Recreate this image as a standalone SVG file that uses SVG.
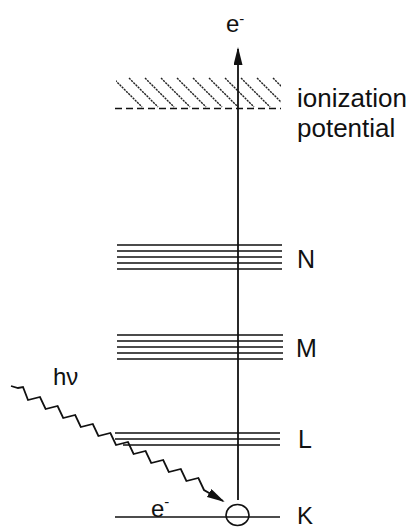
<svg xmlns="http://www.w3.org/2000/svg" width="412" height="528" viewBox="0 0 412 528">
  <style>
    .lvl { stroke: #111; stroke-width: 1.6; fill: none; }
    .hatch { stroke: #222; stroke-width: 1.4; stroke-dasharray: 2.2 0.9; fill: none; }
    .lbl { font-family: "Liberation Sans", Arial, sans-serif; fill: #111; }
    .conn { stroke: #111; stroke-width: 1.8; fill: none; }
  </style>
  <defs>
    <marker id="arr" markerUnits="userSpaceOnUse" markerWidth="20" markerHeight="10" refX="16" refY="4.5" orient="auto">
      <path d="M0,0 L18,4.5 L0,9 Z" fill="#111"/>
    </marker>
    <clipPath id="hclip">
      <rect x="116" y="77" width="165" height="31"/>
    </clipPath>
  </defs>
  <rect width="412" height="528" fill="#fff"/>

  <g id="ionization">
    <g clip-path="url(#hclip)">
      <path class="hatch" d="M113,78 l29,29 M129,78 l29,29 M145,78 l29,29 M161,78 l29,29 M177,78 l29,29 M193,78 l29,29 M209,78 l29,29 M225,78 l29,29 M241,78 l29,29 M257,78 l29,29 M273,78 l29,29"/>
    </g>
    <line class="lvl" x1="115" y1="108.5" x2="281" y2="108.5" stroke-dasharray="7 4"/>
    <text class="lbl" x="297" y="107" font-size="26">ionization</text>
    <text class="lbl" x="297" y="137" font-size="26">potential</text>
  </g>

  <g id="level-N">
    <path class="lvl" d="M117,245 H282 M117,251 H282 M117,257 H282 M117,263 H282 M117,269 H282"/>
    <text class="lbl" x="297" y="268" font-size="25">N</text>
  </g>

  <g id="level-M">
    <path class="lvl" d="M117,335 H283 M117,341 H283 M117,347 H283 M117,353 H283 M117,359 H283"/>
    <text class="lbl" x="296" y="357" font-size="25">M</text>
  </g>

  <g id="level-L">
    <path class="lvl" d="M115,433 H280 M115,439 H280 M123,445 H280"/>
    <text class="lbl" x="298" y="448" font-size="25">L</text>
  </g>

  <g id="level-K">
    <path class="lvl" d="M115,517 H280"/>
    <ellipse class="lvl" cx="237.5" cy="515" rx="11.5" ry="10.5"/>
    <text class="lbl" x="297" y="524" font-size="24">K</text>
  </g>

  <g id="label-e-top">
    <text class="lbl" x="226" y="32" font-size="24">e<tspan font-size="15" dy="-8">-</tspan></text>
  </g>

  <g id="label-e-K">
    <text class="lbl" x="151" y="517" font-size="24">e<tspan font-size="15" dy="-10">-</tspan></text>
  </g>

  <g id="label-hv">
    <text class="lbl" x="53" y="385" font-size="24">hν</text>
  </g>

  <g id="connectors">
    <line class="conn" x1="238" y1="500" x2="238" y2="49" marker-end="url(#arr)"/>
    <path class="conn" stroke-width="1.5" stroke-linejoin="miter" marker-end="url(#arr)"
      d="M11,386 l7,2 l5,-1 l5,13 l12,-3 l5.6,12 l12,-3 l5.6,12 l12,-3 l5.6,12 l12,-3 l5.6,12 l12,-3 l5.6,12 l12,-3 l5.6,12 l12,-3 l5.6,12 l12,-3 l5.6,12 l12,-3 l5.6,12 l12,-3 l5.6,12 L223,501"/>
  </g>
</svg>
